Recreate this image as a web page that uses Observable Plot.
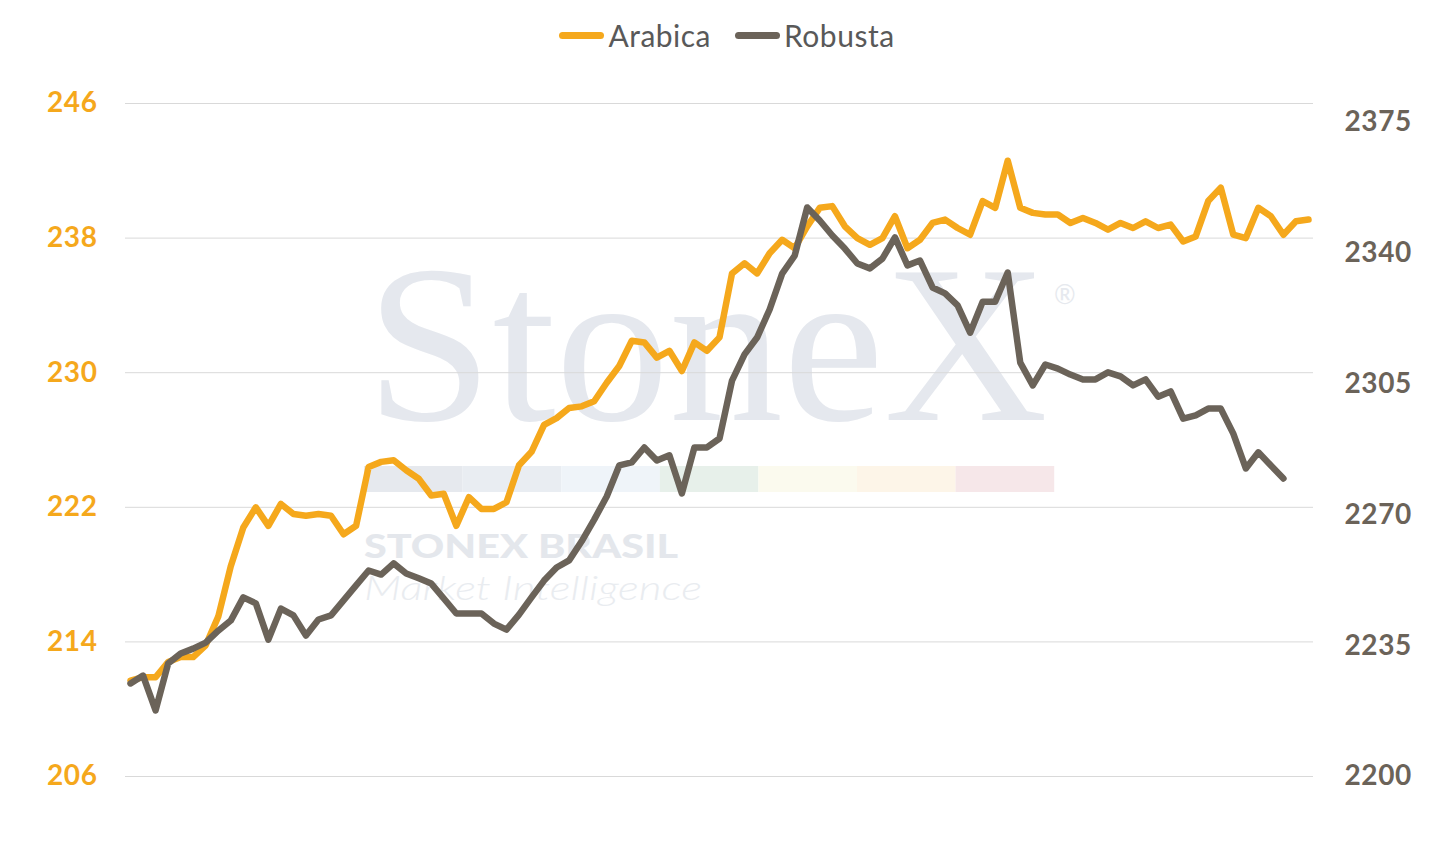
<!DOCTYPE html>
<html><head><meta charset="utf-8">
<script src="https://cdn.jsdelivr.net/npm/d3@7"></script>
<script src="https://cdn.jsdelivr.net/npm/@observablehq/plot@0.6"></script>
<style>
html,body{margin:0;padding:0;background:#fff;}
#page{position:relative;width:1454px;height:842px;overflow:hidden;font-family:Lato, sans-serif;}
#wm{position:absolute;left:0;top:0;z-index:0;}
#legend{position:relative;z-index:2;height:54px;padding-top:8px;display:flex;justify-content:center;align-items:center;}
.item{display:flex;align-items:center;margin:0 12px;}
.sw{width:45px;height:7px;border-radius:4px;margin-right:4px;}
.lab{font-size:30px;color:#595959;line-height:1.2;letter-spacing:0.5px;}
#chart{position:relative;z-index:1;}
#chart svg g[aria-label="y-axis tick label"] text{letter-spacing:0.6px;}
</style></head>
<body><div id="page">
<svg id="wm" width="1454" height="842">
  <text x="366" y="420" font-family="Liberation Serif" font-size="224" fill="#E5E8EE" textLength="682" lengthAdjust="spacingAndGlyphs">StoneX</text>
  <text x="1054" y="304" font-family="Lato" font-size="26" fill="#E6E9EE">®</text>
  <rect x="364" y="466" width="98.6" height="26" fill="#E6E9EE"/>
  <rect x="462.6" y="466" width="98.6" height="26" fill="#E9EDF2"/>
  <rect x="561.2" y="466" width="98.6" height="26" fill="#EFF4F9"/>
  <rect x="659.8" y="466" width="98.6" height="26" fill="#E7F0EA"/>
  <rect x="758.4" y="466" width="98.6" height="26" fill="#FBFAEE"/>
  <rect x="857" y="466" width="98.6" height="26" fill="#FDF5E8"/>
  <rect x="955.6" y="466" width="98.6" height="26" fill="#F6E7E9"/>
  <text x="364" y="558" font-family="Lato" font-weight="900" font-size="32" fill="#E4E7EC" textLength="314" lengthAdjust="spacingAndGlyphs">STONEX BRASIL</text>
  <text x="364" y="600" font-family="Lato" font-style="italic" font-weight="300" font-size="34" fill="#E9ECF0" textLength="338" lengthAdjust="spacingAndGlyphs">Market Intelligence</text>
</svg>
<div id="legend"></div>
<div id="chart"></div>
</div>
<script>
const seriesNames = ["Arabica", "Robusta"];
const seriesColors = ["#F5A81C", "#6B6359"];
const leftTicks = [206, 214, 222, 230, 238, 246];
const rightTicks = [2200, 2235, 2270, 2305, 2340, 2375];

const arabica = [
  211.7, 211.9, 211.9, 212.8, 213.1, 213.1, 213.8, 215.5, 218.5, 220.8,
  222.0, 220.9, 222.2, 221.6, 221.5, 221.6, 221.5, 220.4, 220.9, 224.4,
  224.7, 224.8, 224.2, 223.7, 222.7, 222.8, 220.9, 222.6, 221.9, 221.9,
  222.3, 224.5, 225.3, 226.9, 227.3, 227.9, 228.0, 228.3, 229.4, 230.4,
  231.9, 231.8, 230.9, 231.3, 230.1, 231.8, 231.3, 232.1, 235.9, 236.5,
  235.9, 237.1, 237.9, 237.4, 238.7, 239.8, 239.9, 238.7, 238.0, 237.6,
  238.0, 239.3, 237.4, 237.9, 238.9, 239.1, 238.6, 238.2, 240.2, 239.8,
  242.6, 239.8, 239.5, 239.4, 239.4, 238.9, 239.2, 238.9, 238.5, 238.9,
  238.6, 239.0, 238.6, 238.8, 237.8, 238.1, 240.2, 241.0, 238.2, 238.0,
  239.8, 239.3, 238.2, 239.0, 239.1
];
const robusta = [
  2224.9, 2227.0, 2217.7, 2230.2, 2232.9, 2234.2, 2235.8, 2239.0, 2241.7, 2247.9,
  2246.3, 2236.6, 2244.9, 2243.1, 2237.7, 2242.0, 2243.1, 2247.1, 2251.1, 2255.1,
  2254.0, 2257.0, 2254.3, 2253.0, 2251.6, 2247.6, 2243.6, 2243.6, 2243.6, 2240.9,
  2239.3, 2243.3, 2247.9, 2252.4, 2255.9, 2257.8, 2262.9, 2268.7, 2274.9, 2283.2,
  2284.0, 2288.0, 2284.5, 2285.9, 2275.7, 2288.0, 2288.0, 2290.4, 2305.9, 2312.9,
  2317.4, 2324.9, 2334.5, 2339.3, 2352.2, 2348.7, 2344.7, 2341.2, 2337.2, 2335.9,
  2338.5, 2344.2, 2336.7, 2338.0, 2330.8, 2329.2, 2326.0, 2318.7, 2327.0, 2327.0,
  2334.8, 2310.7, 2304.6, 2310.2, 2309.1, 2307.5, 2306.2, 2306.2, 2308.1, 2307.0,
  2304.6, 2306.2, 2301.6, 2303.0, 2295.7, 2296.6, 2298.4, 2298.4, 2291.7, 2282.4,
  2286.7, 2283.2, 2279.7
];

const L0 = 206, L1 = 246, R0 = 2200, R1 = 2380;
const toLeft = r => L0 + (r - R0) * (L1 - L0) / (R1 - R0);
const fromLeft = v => R0 + (v - L0) * (R1 - R0) / (L1 - L0);

// legend
const legend = document.getElementById("legend");
seriesNames.forEach((n, k) => {
  const it = document.createElement("div");
  it.className = "item";
  it.innerHTML = `<div class="sw" style="background:${seriesColors[k]}"></div><span class="lab">${n}</span>`;
  legend.appendChild(it);
});

const plot = Plot.plot({
  width: 1454, height: 780,
  marginTop: 41, marginBottom: 66, marginLeft: 125, marginRight: 141,
  style: {background: "transparent", fontFamily: "Lato, sans-serif", overflow: "visible"},
  x: {domain: [-0.4, 94.4], axis: null},
  y: {domain: [L0, L1]},
  marks: [
    Plot.gridY(leftTicks, {stroke: "#D9D9D9", strokeOpacity: 1, strokeWidth: 1}),
    Plot.axisY(leftTicks, {anchor: "left", tickSize: 0, tickPadding: 28, color: seriesColors[0],
      fontSize: 28, fontWeight: 700, label: null, tickFormat: d => String(d)}),
    Plot.axisY(rightTicks.map(toLeft), {anchor: "right", tickSize: 0, tickPadding: 31, color: seriesColors[1],
      fontSize: 28, fontWeight: 700, label: null, tickFormat: d => String(Math.round(fromLeft(d)))}),
    Plot.lineY(arabica, {x: (d, i) => i, y: d => d, stroke: seriesColors[0], strokeWidth: 6.5,
      strokeLinejoin: "round", strokeLinecap: "round"}),
    Plot.lineY(robusta, {x: (d, i) => i, y: d => toLeft(d), stroke: seriesColors[1], strokeWidth: 6.5,
      strokeLinejoin: "round", strokeLinecap: "round"})
  ]
});
document.getElementById("chart").appendChild(plot);
</script>
</body></html>
